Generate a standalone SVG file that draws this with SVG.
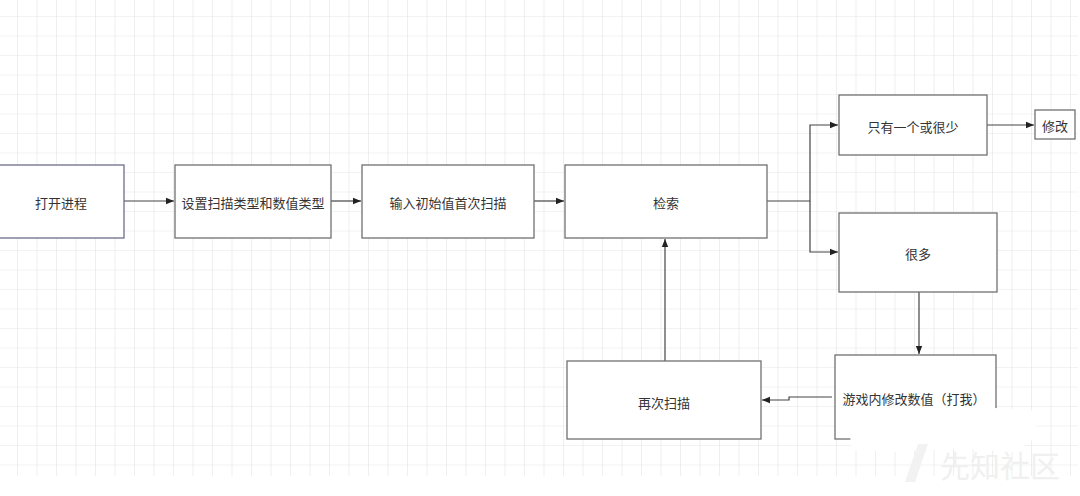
<svg xmlns="http://www.w3.org/2000/svg" width="1080" height="496" viewBox="0 0 1080 496">
<defs>
<pattern id="grid" x="-1.5" y="-2.5" width="19.5" height="19.5" patternUnits="userSpaceOnUse">
<path d="M19.5 0V19.5M0 19.5H19.5" fill="none" stroke="#e6e6e6" stroke-width="1.2"/>
</pattern>
<marker id="ah" viewBox="0 0 10 10" refX="10" refY="5" markerWidth="8" markerHeight="8" markerUnits="userSpaceOnUse" orient="auto">
<path d="M0 1L10 5L0 9Z" fill="#222"/>
</marker>
</defs>
<style>
.box{fill:#fff;stroke:#707070;stroke-width:1.3}
.t{font-family:"Noto Sans CJK SC","Noto Sans",sans-serif;font-size:13px;fill:#333;text-anchor:middle;dominant-baseline:central}
.c{fill:none;stroke:#444;stroke-width:1.2}
</style>
<rect width="1080" height="496" fill="#fff"/>
<rect x="0" y="0" width="1078" height="476" fill="url(#grid)"/>
<g id="connectors">
<path class="c" d="M124 201H174" marker-end="url(#ah)"/>
<path class="c" d="M331 201H361" marker-end="url(#ah)"/>
<path class="c" d="M534 201H564" marker-end="url(#ah)"/>
<path class="c" d="M767 201H810V125H838" marker-end="url(#ah)"/>
<path class="c" d="M810 201V252H838" marker-end="url(#ah)"/>
<path class="c" d="M987 125H1034" marker-end="url(#ah)"/>
<path class="c" d="M919 292V354" marker-end="url(#ah)"/>
<path class="c" d="M832 397H789V400H762" marker-end="url(#ah)"/>
<path class="c" d="M665 361V239" marker-end="url(#ah)"/>
</g>
<g id="n1"><rect class="box" x="-2" y="165" width="126" height="73" style="stroke:#6e6e8e"/><text class="t" x="61" y="202">打开进程</text></g>
<g id="n2"><rect class="box" x="175" y="165" width="156" height="73"/><text class="t" x="253" y="202">设置扫描类型和数值类型</text></g>
<g id="n3"><rect class="box" x="362" y="165" width="172" height="73"/><text class="t" x="448" y="202">输入初始值首次扫描</text></g>
<g id="n4"><rect class="box" x="565" y="165" width="202" height="73"/><text class="t" x="666" y="202">检索</text></g>
<g id="n5"><rect class="box" x="839" y="95" width="148" height="60"/><text class="t" x="913" y="126">只有一个或很少</text></g>
<g id="n6"><rect class="box" x="1035" y="110" width="40" height="29"/><text class="t" x="1055" y="125">修改</text></g>
<g id="n7"><rect class="box" x="839" y="213" width="158" height="79"/><text class="t" x="918" y="253">很多</text></g>
<g id="n8"><rect class="box" x="835" y="355" width="161" height="84"/><text class="t" x="914" y="398">游戏内修改数值（打我）</text></g>
<g id="n9"><rect class="box" x="567" y="361" width="194" height="78"/><text class="t" x="664" y="402">再次扫描</text></g>
<path d="M846 410L1000 408L1040 411L1032 440L1015 452L960 448L900 452L852 450Z" fill="#fff"/>
<g id="watermark">
<path d="M905 482L918 444L928 444L915 482Z" fill="#f2f2f2"/>
<text x="1000" y="477" font-family="Noto Sans CJK SC,sans-serif" font-size="30" fill="#f0f0f0" text-anchor="middle">先知社区</text>
</g>
</svg>
